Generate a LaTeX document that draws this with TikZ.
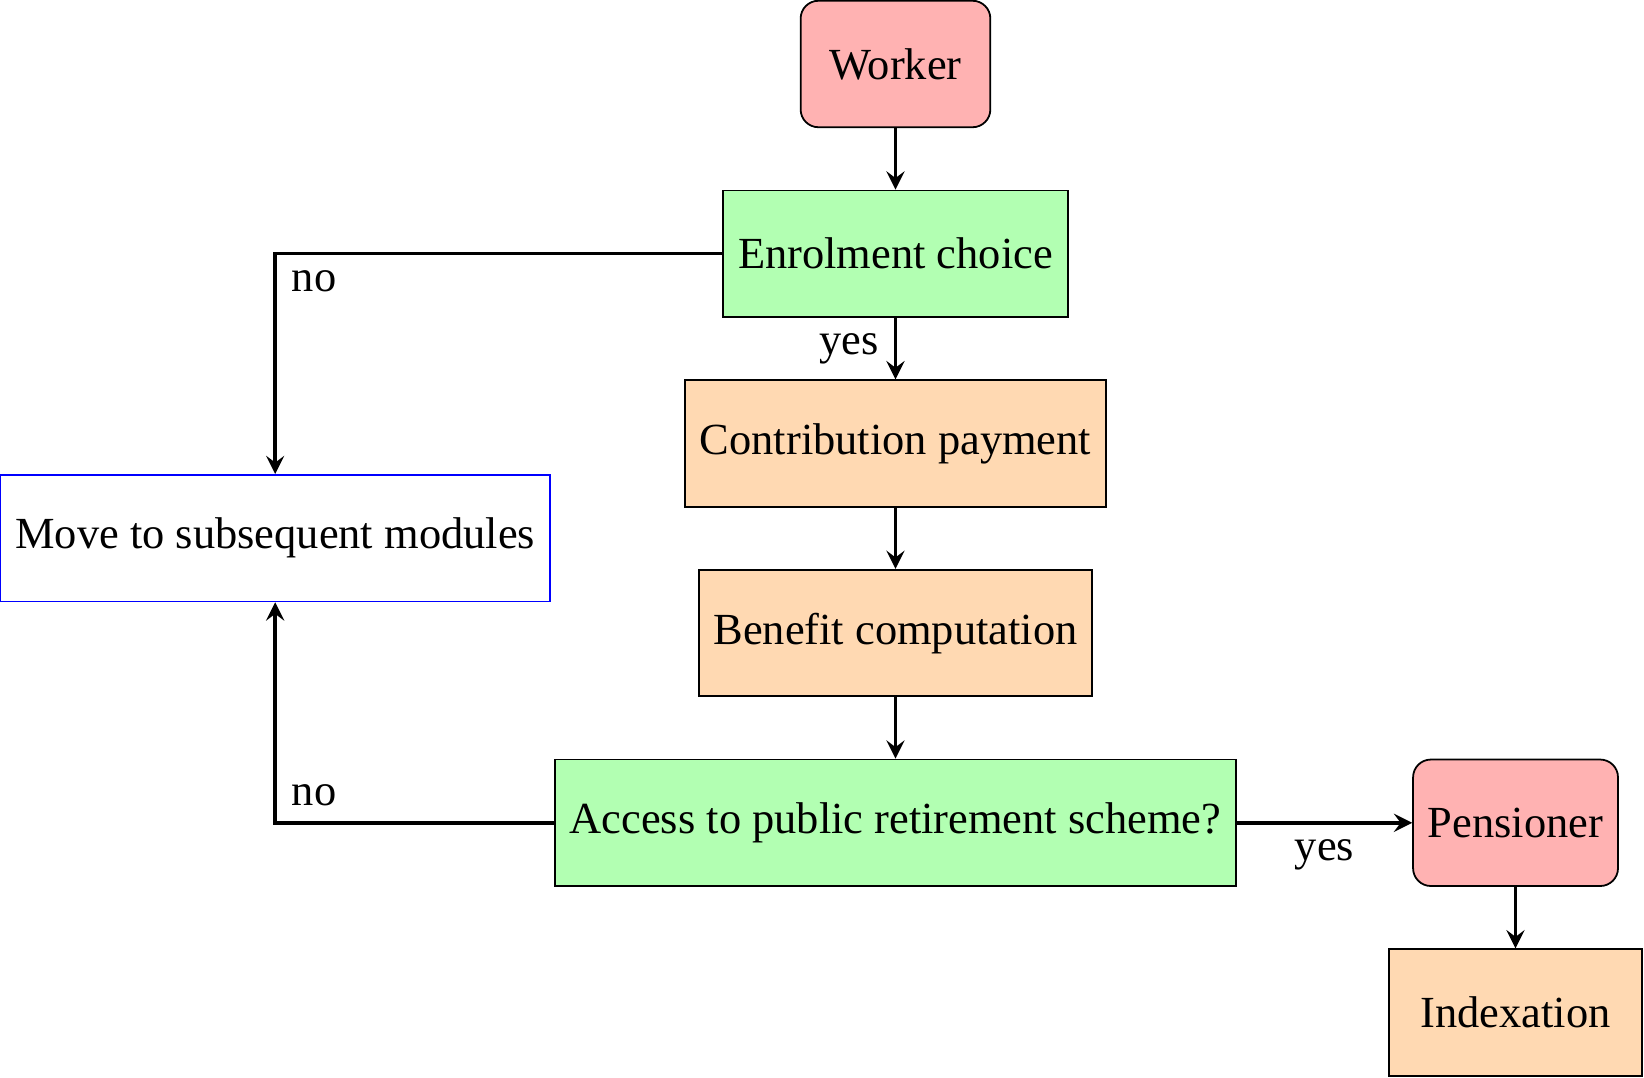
\documentclass[tikz,border=0pt]{standalone}
\usepackage{fontspec}
\setmainfont{Liberation Serif}
\begin{document}
\begin{tikzpicture}[
  box/.style={draw, minimum height=1cm, minimum width=2cm, inner sep=0.3333em},
  term/.style={box, minimum width=1.5cm, rounded corners=4pt, fill=red!30},
  dec/.style={box, fill=green!30},
  proc/.style={box, fill=orange!30},
  other/.style={box, draw=blue, fill=white},
  arr/.style={thick, -stealth},
  lbl/.style={inner sep=0.3333em}
]
\useasboundingbox (0,0) rectangle (13.0,-8.522);
\node[term] (worker) at (7.081,-0.506) {Worker};
\node[dec] (enrol) at (7.081,-2.006) {Enrolment choice};
\node[proc] (contrib) at (7.081,-3.506) {Contribution payment};
\node[proc] (benefit) at (7.081,-5.006) {Benefit computation};
\node[dec] (access) at (7.081,-6.506) {Access to public retirement scheme?};
\node[term] (pension) at (11.984,-6.506) {Pensioner};
\node[proc] (index) at (11.984,-8.006) {Indexation};
\node[other] (move) at (2.176,-4.256) {Move to subsequent modules};

\draw[arr] (worker) -- (enrol);
\draw[arr] (enrol) -- node[lbl, left] {yes} (contrib);
\draw[arr] (contrib) -- (benefit);
\draw[arr] (benefit) -- (access);
\draw[arr] (access) -- node[lbl, below] {yes} (pension);
\draw[arr] (pension) -- (index);
\draw[arr] (enrol.west) -| node[lbl, pos=0.5, below right] {no} (move.north);
\draw[arr] (access.west) -| node[lbl, pos=0.5, above right] {no} (move.south);
\end{tikzpicture}
\end{document}
